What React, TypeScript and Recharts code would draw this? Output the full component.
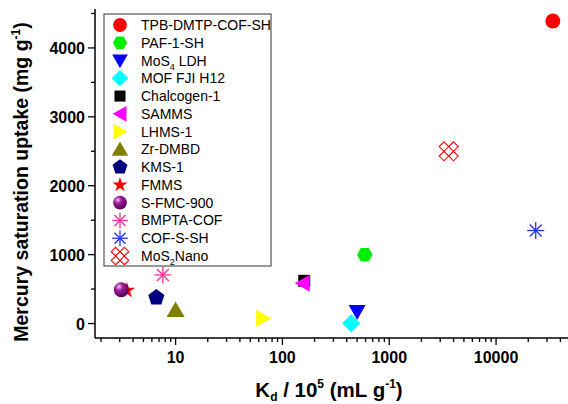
import React from 'react';
import { ScatterChart, Scatter, XAxis, YAxis, Customized } from 'recharts';

const SERIES_NAMES = [
  'TPB-DMTP-COF-SH', 'PAF-1-SH', 'MoS4 LDH', 'MOF FJI H12', 'Chalcogen-1', 'SAMMS', 'LHMS-1',
  'Zr-DMBD', 'KMS-1', 'FMMS', 'S-FMC-900', 'BMPTA-COF', 'COF-S-SH', 'MoS2Nano',
];
const KD_VALUES = [34000, 590, 500, 440, 160, 155, 66, 10, 6.6, 3.5, 3.1, 7.6, 23500, 3600];
const UPTAKE_VALUES = [4390, 1000, 175, 5, 620, 585, 75, 197, 377, 480, 490, 705, 1350, 2500];
const MARKERS = ['circle', 'hexagon', 'tridown', 'diamond', 'square', 'trileft', 'triright',
  'triup', 'pentagon', 'star', 'sphere', 'asterisk', 'asterisk', 'lattice'];
const COLORS = ['#FF0000', '#00EE00', '#0000FF', '#00FFFF', '#000000', '#FF00FF', '#FFFF00',
  '#808000', '#000080', '#FF0000', '#800080', '#FF3399', '#2233FF', '#FF0000'];

const X_MAJOR_TICKS = [10, 100, 1000, 10000];
const X_MINOR_TICKS = [2, 3, 4, 5, 6, 7, 8, 9, 20, 30, 40, 50, 60, 70, 80, 90, 200, 300, 400, 500, 600, 700, 800, 900,
  2000, 3000, 4000, 5000, 6000, 7000, 8000, 9000, 20000, 30000, 40000, 50000];
const Y_TICKS = [0, 500, 1000, 1500, 2000, 2500, 3000, 3500, 4000, 4500];
const Y_LABELED = [0, 1000, 2000, 3000, 4000];

const FONT = '"Liberation Sans", Arial, sans-serif';

function poly(cx: number, cy: number, pts: number[][]) {
  return pts.map((p) => `${(cx + p[0]).toFixed(2)},${(cy + p[1]).toFixed(2)}`).join(' ');
}

function regular(n: number, r: number, start: number) {
  const pts: number[][] = [];
  for (let i = 0; i < n; i++) {
    const a = start + (i * 2 * Math.PI) / n;
    pts.push([r * Math.cos(a), r * Math.sin(a)]);
  }
  return pts;
}

function Marker({ kind, color, cx, cy, s = 1, id }: any) {
  switch (kind) {
    case 'circle':
      return <circle cx={cx} cy={cy} r={7.5 * s} fill={color} />;
    case 'hexagon':
      return <polygon points={poly(cx, cy, regular(6, 7.8 * s, 0))} fill={color} />;
    case 'tridown':
      return <polygon points={poly(cx, cy, [[-8.5 * s, -6.5 * s], [8.5 * s, -6.5 * s], [0, 8.5 * s]])} fill={color} />;
    case 'triup':
      return <polygon points={poly(cx, cy, [[0, -8.5 * s], [-9 * s, 7 * s], [9 * s, 7 * s]])} fill={color} />;
    case 'trileft':
      return <polygon points={poly(cx, cy, [[-8 * s, 0], [7 * s, -8.5 * s], [7 * s, 8.5 * s]])} fill={color} />;
    case 'triright':
      return <polygon points={poly(cx, cy, [[8 * s, 0], [-7 * s, -8.5 * s], [-7 * s, 8.5 * s]])} fill={color} />;
    case 'diamond':
      return <polygon points={poly(cx, cy, [[0, -9 * s], [9 * s, 0], [0, 9 * s], [-9 * s, 0]])} fill={color} />;
    case 'square':
      return <rect x={cx - 6 * s} y={cy - 6 * s} width={12 * s} height={12 * s} fill={color} />;
    case 'pentagon':
      return <polygon points={poly(cx, cy, regular(5, 8.5 * s, -Math.PI / 2))} fill={color} />;
    case 'star': {
      const pts: number[][] = [];
      for (let i = 0; i < 10; i++) {
        const a = -Math.PI / 2 + (i * Math.PI) / 5;
        const r = i % 2 === 0 ? 8.5 * s : 3.4 * s;
        pts.push([r * Math.cos(a), r * Math.sin(a)]);
      }
      return <polygon points={poly(cx, cy, pts)} fill={color} />;
    }
    case 'sphere':
      return (
        <g>
          <defs>
            <radialGradient id={id} cx="35%" cy="30%" r="70%">
              <stop offset="0%" stopColor="#F0C8F0" />
              <stop offset="35%" stopColor="#A020A0" />
              <stop offset="100%" stopColor="#500050" />
            </radialGradient>
          </defs>
          <circle cx={cx} cy={cy} r={7.5 * s} fill={`url(#${id})`} />
        </g>
      );
    case 'asterisk': {
      const L = 8.5 * s;
      const d = L * 0.707;
      return (
        <g stroke={color} strokeWidth={1.3}>
          <line x1={cx - L} y1={cy} x2={cx + L} y2={cy} />
          <line x1={cx} y1={cy - L} x2={cx} y2={cy + L} />
          <line x1={cx - d} y1={cy - d} x2={cx + d} y2={cy + d} />
          <line x1={cx - d} y1={cy + d} x2={cx + d} y2={cy - d} />
        </g>
      );
    }
    case 'lattice': {
      const h = 4.75 * s;
      const cs = [[-h, -h], [h, -h], [-h, h], [h, h]];
      return (
        <g fill="none" stroke={color} strokeWidth={1.1}>
          {cs.map((c, i) => (
            <polygon key={i} points={poly(cx + c[0], cy + c[1], [[0, -h], [h, 0], [0, h], [-h, 0]])} />
          ))}
        </g>
      );
    }
    default:
      return null;
  }
}

function LegendLabel({ name }: { name: string }) {
  if (name === 'MoS4 LDH') {
    return (<>MoS<tspan fontSize={9} dy={4}>4</tspan><tspan dy={-4}> LDH</tspan></>);
  }
  if (name === 'MoS2Nano') {
    return (<>MoS<tspan fontSize={9} dy={4}>2</tspan><tspan dy={-4}>Nano</tspan></>);
  }
  return <>{name}</>;
}

function Decorations() {
  const top = 25;
  const step = 17.77;
  return (
    <g>
      <rect x={104} y={14} width={167} height={252} fill="#fff" stroke="#333" strokeWidth={1} />
      {SERIES_NAMES.map((n, i) => {
        const cy = top + i * step;
        return (
          <g key={n}>
            <Marker kind={MARKERS[i]} color={COLORS[i]} cx={120} cy={cy} s={0.92} id={`sph-leg-${i}`} />
            <text x={141} y={cy + 5} fontSize={14} fontFamily={FONT} fill="#000">
              <LegendLabel name={n} />
            </text>
          </g>
        );
      })}
      <text
        transform="rotate(-90 28 182)"
        x={28}
        y={182}
        textAnchor="middle"
        fontSize={19.5}
        fontWeight="bold"
        fontFamily={FONT}
        fill="#000"
      >
        Mercury saturation uptake (mg g<tspan fontSize={12} dy={-8}>-1</tspan><tspan dy={8}>)</tspan>
      </text>
      <text x={329} y={397} textAnchor="middle" fontSize={20.5} fontWeight="bold" fontFamily={FONT} fill="#000">
        K<tspan fontSize={12} dy={4}>d</tspan><tspan dy={-4}> / 10</tspan><tspan fontSize={12} dy={-9}>5</tspan>
        <tspan dy={9}> (mL g</tspan><tspan fontSize={12} dy={-9}>-1</tspan><tspan dy={9}>)</tspan>
      </text>
    </g>
  );
}

function XTick(props: any) {
  const { x, y, payload } = props;
  const v = payload.value;
  const major = X_MAJOR_TICKS.includes(v);
  return (
    <g>
      <line x1={x} x2={x} y1={y} y2={y + (major ? 7 : 4)} stroke="#000" strokeWidth={1.3} />
      {major && (
        <text x={x} y={y + 24.5} textAnchor="middle" fontSize={16} fontWeight="bold" fontFamily={FONT} fill="#000">
          {v}
        </text>
      )}
    </g>
  );
}

function YTick(props: any) {
  const { x, y, payload } = props;
  const v = payload.value;
  const major = Y_LABELED.includes(v);
  return (
    <g>
      <line x1={x} x2={x - (major ? 7 : 4)} y1={y} y2={y} stroke="#000" strokeWidth={1.3} />
      {major && (
        <text x={x - 10} y={y + 6} textAnchor="end" fontSize={16} fontWeight="bold" fontFamily={FONT} fill="#000">
          {v}
        </text>
      )}
    </g>
  );
}

export default function App() {
  const series = SERIES_NAMES.map((name, i) => ({
    name,
    data: [{ x: KD_VALUES[i], y: UPTAKE_VALUES[i] }],
    kind: MARKERS[i],
    color: COLORS[i],
  }));
  return (
    <div style={{ position: 'absolute', left: 0, top: 0, width: 568, height: 404, overflow: 'hidden', background: '#fff' }}>
      <ScatterChart width={600} height={404} margin={{ top: 9, right: 24, left: 0, bottom: 0 }}>
        <XAxis
          xAxisId="top"
          orientation="top"
          type="number"
          dataKey="x"
          scale="log"
          domain={[1.76, 56000]}
          allowDataOverflow
          height={0}
          tick={false}
          tickLine={false}
          axisLine={{ stroke: '#000', strokeWidth: 1.5 }}
        />
        <XAxis
          xAxisId="main"
          type="number"
          dataKey="x"
          scale="log"
          domain={[1.76, 56000]}
          allowDataOverflow
          ticks={[...X_MINOR_TICKS, ...X_MAJOR_TICKS].sort((a, b) => a - b)}
          interval={0}
          height={66}
          tickSize={0}
          tickMargin={0}
          tickLine={false}
          tick={<XTick />}
          axisLine={{ stroke: '#000', strokeWidth: 1.5 }}
        />
        <YAxis
          type="number"
          dataKey="y"
          domain={[-210, 4565]}
          allowDataOverflow
          ticks={Y_TICKS}
          interval={0}
          width={95}
          tickSize={0}
          tickMargin={0}
          tickLine={false}
          tick={<YTick />}
          axisLine={{ stroke: '#000', strokeWidth: 1.5 }}
        />
        {series.map((s, i) => (
          <Scatter
            key={s.name}
            name={s.name}
            xAxisId="main"
            data={s.data}
            isAnimationActive={false}
            shape={(p: any) => <Marker kind={s.kind} color={s.color} cx={p.cx} cy={p.cy} s={1} id={`sph-plot-${i}`} />}
          />
        ))}
        <Customized component={Decorations} />
      </ScatterChart>
    </div>
  );
}
